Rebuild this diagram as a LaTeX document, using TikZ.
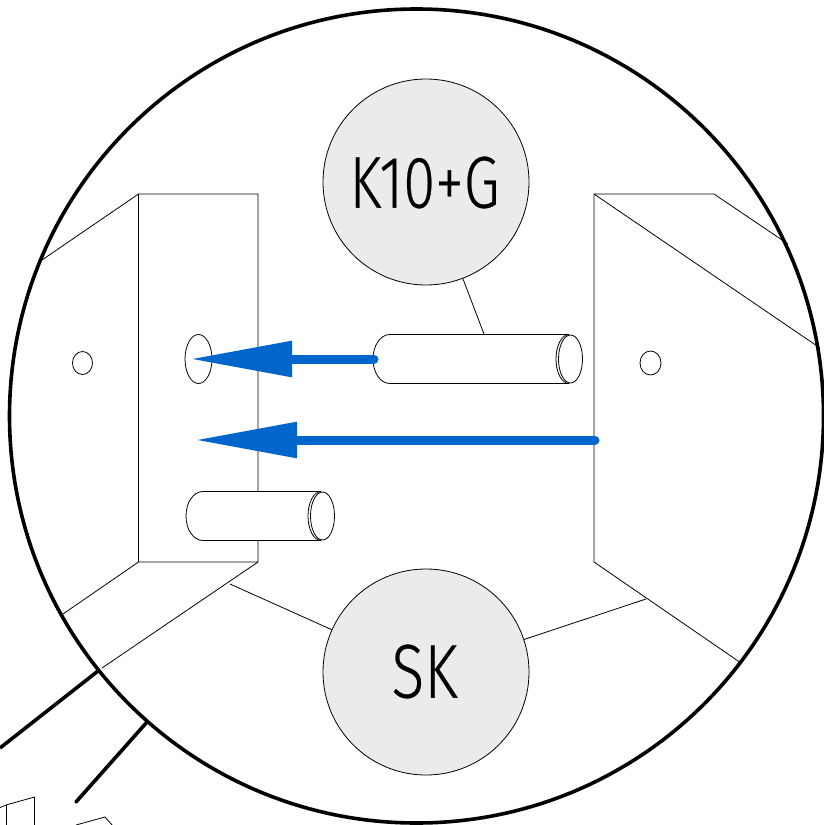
\documentclass[tikz,border=0pt]{standalone}
\usepackage{fontspec}
\usetikzlibrary{arrows.meta}
\newfontfamily\lblfont[FakeBold=0.4]{Fira Sans Light}
\definecolor{tagfill}{HTML}{EBEBEB}
\definecolor{arrowblue}{HTML}{0066CC}
\tikzset{
  thinline/.style={draw=black,line width=0.8pt,line join=round},
  heavyline/.style={draw=black,line width=3.6pt,line cap=round},
  tagcircle/.style={circle,draw=black,line width=0.8pt,fill=tagfill,minimum size=206pt,inner sep=0pt},
  movearrow/.style={draw=arrowblue,line width=9pt,line cap=round,-{Triangle[length=102pt,width=34pt,fill=arrowblue]}}
}
\begin{document}
\begin{tikzpicture}[x=1pt,y=-1pt]
\useasboundingbox (0,0) rectangle (824,825);
% left block
\draw[thinline] (42,260) -- (138.5,194) -- (258,194) -- (258,562) -- (138.5,562) -- (63,614);
\draw[thinline] (138.5,194) -- (138.5,562);
\draw[thinline] (258,562) -- (102,668);
% right block
\draw[thinline] (788,244) -- (714,194) -- (594,194) -- (594,562) -- (741,663);
\draw[thinline] (594,194) -- (820,348);
% holes
\draw[thinline] (82.5,363) ellipse [x radius=10,y radius=11.5];
\draw[thinline] (650.5,363) ellipse [x radius=10.5,y radius=12];
\draw[thinline] (198.5,359) ellipse [x radius=13.5,y radius=24.5];
% upper pin
\fill[white] (390,334.5) -- (570,334.5) -- (570,383.5) -- (390,383.5) .. controls (380,383.5) and (373,372) .. (373,359) .. controls (373,346) and (380,334.5) .. (390,334.5) -- cycle;
\draw[thinline] (569,334.5) -- (390,334.5) .. controls (380,334.5) and (373,346) .. (373,359) .. controls (373,372) and (380,383.5) .. (390,383.5) -- (569,383.5);
\draw[thinline] (569,334.5) arc [start angle=270,end angle=90,x radius=13,y radius=24.5];
\draw[thinline] (570.5,359) ellipse [x radius=12,y radius=24];
% lower pin
\fill[white] (203,491.5) -- (322,491.5) -- (322,540.5) -- (203,540.5) .. controls (193,540.5) and (186,529) .. (186,516) .. controls (186,503) and (193,491.5) .. (203,491.5) -- cycle;
\draw[thinline] (321,491.5) -- (203,491.5) .. controls (193,491.5) and (186,503) .. (186,516) .. controls (186,529) and (193,540.5) .. (203,540.5) -- (321,540.5);
\draw[thinline] (321,491.5) arc [start angle=270,end angle=90,x radius=13,y radius=24.5];
\draw[thinline] (322.5,516) ellipse [x radius=12,y radius=24];
% tags
\node[tagcircle] (kg) at (426,182) {};
\node[tagcircle] (sk) at (426,672) {};
\node[inner sep=0pt] (kgtext) at (424.5,182.5) {\lblfont\resizebox{150pt}{51pt}{K10+G}};
\node[inner sep=0pt] (sktext) at (424.5,671.5) {\lblfont\resizebox{66pt}{53pt}{SK}};
\coordinate (pinleader) at (484,334);
\coordinate (skleft) at (230,584);
\coordinate (skright) at (646,599);
\draw[thinline] (kg) -- (pinleader);
\draw[thinline] (sk) -- (skleft);
\draw[thinline] (sk) -- (skright);
% arrows
\coordinate (upstart) at (374,359);
\coordinate (uptip) at (190,359);
\coordinate (lowstart) at (595,440);
\coordinate (lowtip) at (195,440);
\draw[movearrow] (upstart) -- (uptip);
\draw[movearrow] (lowstart) -- (lowtip);
% magnifier circle
\draw[draw=black,line width=3.6pt] (416.5,416) circle [radius=407];
% handle
\coordinate (hA) at (98,671);
\coordinate (hB) at (0,748);
\coordinate (hC) at (147,722);
\coordinate (hD) at (76,802);
\draw[heavyline,line cap=butt] (hA) -- (hB);
\draw[heavyline] (hC) -- (hD);
% fragments below
\draw[thinline] (-1,808) -- (6,805) -- (34.5,797) -- (34.5,826);
\draw[thinline] (6,805) -- (6,826);
\draw[thinline] (76,825) -- (105,817) -- (113,826);
\end{tikzpicture}
\end{document}
